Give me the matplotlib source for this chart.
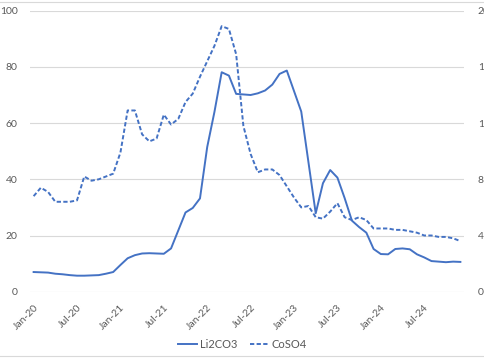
import matplotlib
matplotlib.use("Agg")
import matplotlib.pyplot as plt
import numpy as np
import pandas as pd

# Monthly prices, Jan-20 .. Dec-24
months = pd.date_range("2020-01-01", periods=60, freq="MS").strftime("%b-%y").tolist()

li2co3 = [
    7.0, 6.9, 6.8, 6.4, 6.2, 5.9, 5.7, 5.7, 5.8, 5.9, 6.4, 7.0,
    9.5, 11.9, 13.0, 13.6, 13.7, 13.6, 13.5, 15.4, 21.8, 28.2, 29.8, 33.2,
    51.5, 64.0, 78.1, 76.9, 70.4, 70.2, 70.0, 70.6, 71.6, 73.7, 77.5, 78.7,
    71.4, 64.1, 46.0, 27.9, 38.6, 43.3, 40.6, 33.3, 25.3, 23.0, 21.0, 15.2,
    13.4, 13.3, 15.2, 15.4, 15.1, 13.3, 12.2, 10.9, 10.7, 10.5, 10.7, 10.6,
]

coso4 = [
    6.8, 7.4, 7.1, 6.4, 6.4, 6.4, 6.5, 8.2, 7.9, 8.0, 8.2, 8.4,
    9.9, 12.9, 12.9, 11.2, 10.7, 10.9, 12.6, 11.9, 12.3, 13.5, 14.1, 15.3,
    16.4, 17.5, 18.9, 18.7, 16.9, 11.8, 9.8, 8.5, 8.7, 8.7, 8.3, 7.5,
    6.7, 6.0, 6.1, 5.3, 5.2, 5.7, 6.3, 5.3, 5.1, 5.3, 5.1, 4.5,
    4.5, 4.5, 4.4, 4.4, 4.3, 4.2, 4.0, 4.0, 3.9, 3.9, 3.8, 3.6,
]

plt.rcParams["font.family"] = ["Lato", "DejaVu Sans"]
blue = "#4472C4"
grey_text = "#595959"
grid = "#d9d9d9"

x = np.arange(len(months))

fig = plt.figure(figsize=(4.85, 3.6), dpi=100)
ax = fig.add_axes([30 / 485, 1 - 291.7 / 360, 434 / 485, 281 / 360])
ax2 = ax.twinx()

l1, = ax.plot(x, li2co3, color=blue, lw=1.4, label="Li2CO3")
l2, = ax2.plot(x, coso4, color=blue, lw=1.4, linestyle=(0, (2.2, 1.2)), label="CoSO4")

ax.set_xlim(-0.5, len(months) - 0.5)
ax.set_ylim(0, 100)
ax.set_yticks(np.arange(0, 101, 20))
ax2.set_ylim(0, 20)
ax2.set_yticks(np.arange(0, 21, 4))

ax.yaxis.grid(True, color=grid, lw=0.8)
ax.set_axisbelow(True)
for a in (ax, ax2):
    for s in a.spines.values():
        s.set_visible(False)
    a.tick_params(length=0, labelsize=7.5, labelcolor=grey_text)
ax.tick_params(axis="y", pad=9)
ax2.tick_params(axis="y", pad=10)

ax.set_xticks(x[::6])
ax.set_xticklabels(months[::6], rotation=45, ha="right", rotation_mode="anchor")
ax.tick_params(axis="x", pad=8)

fig.legend(handles=[l1, l2], loc="center", bbox_to_anchor=(0.5, 1 - 344 / 360),
           ncol=2, frameon=False, fontsize=8, handlelength=1.7, handletextpad=0.2,
           columnspacing=1.2, labelcolor=grey_text)

# light chart-area border (top and bottom visible)
fig.add_artist(plt.Line2D([0, 1], [1 - 2 / 360] * 2, color=grid, lw=0.8))
fig.add_artist(plt.Line2D([0, 1], [1 - 356 / 360] * 2, color=grid, lw=0.8))

fig.savefig("out.png", dpi=100)
